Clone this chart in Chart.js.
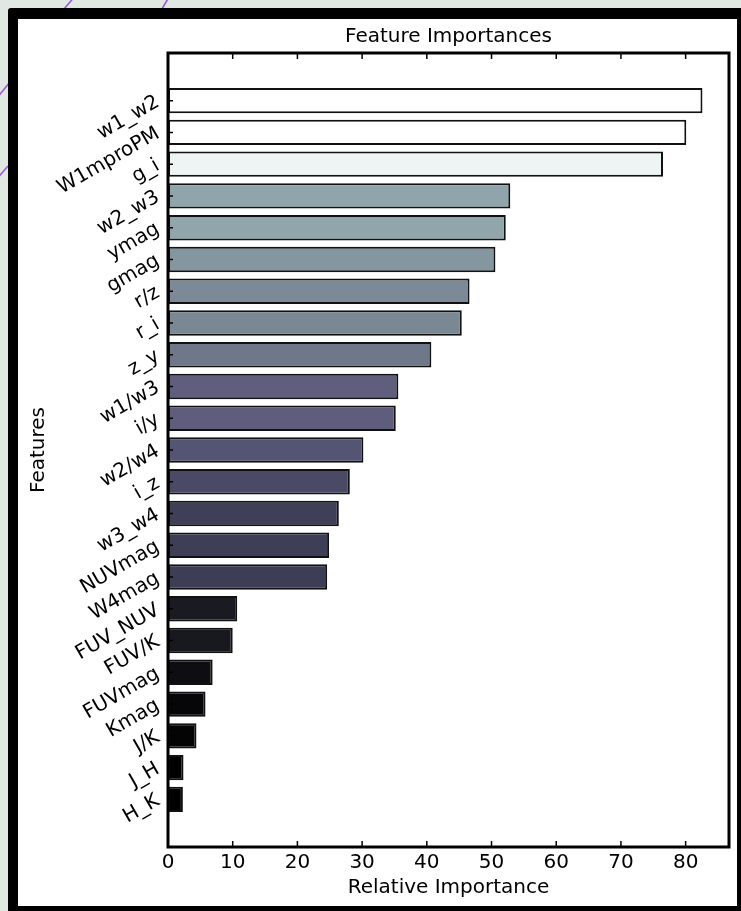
<!DOCTYPE html>
<html>
<head>
<meta charset="utf-8">
<script src="https://cdn.jsdelivr.net/npm/chart.js@4"></script>
<style>
  html, body { margin: 0; padding: 0; }
  body { width: 741px; height: 911px; overflow: hidden; background: #e1e7e2; position: relative; }
  #deco { position: absolute; left: 0; top: 0; }
  #frame { position: absolute; left: 8px; top: 8px; width: 719px; height: 887px;
           border: 10px solid #000; border-top-width: 11px; border-radius: 3px; background: #fff; }
  canvas { display: block; }
</style>
</head>
<body>
<svg id="deco" width="741" height="911">
  <g stroke="#9a5ad6" stroke-width="1.6" fill="none">
    <line x1="76" y1="-5" x2="58" y2="16"/>
    <line x1="169" y1="-3" x2="159" y2="14"/>
    <line x1="10" y1="82" x2="-4" y2="99"/>
    <line x1="8" y1="166" x2="-4" y2="180"/>
  </g>
</svg>
<div id="frame"><canvas id="c" width="719" height="887"></canvas></div>
<script>
// ---- data ----
const categories = ['w1_w2','W1mproPM','g_i','w2_w3','ymag','gmag','r/z','r_i','z_y','w1/w3','i/y','w2/w4','i_z','w3_w4','NUVmag','W4mag','FUV_NUV','FUV/K','FUVmag','Kmag','J/K','J_H','H_K'];
const importance = [82.6, 80.1, 76.5, 52.9, 52.2, 50.6, 46.6, 45.4, 40.7, 35.6, 35.2, 30.2, 28.1, 26.4, 24.9, 24.6, 10.7, 10.0, 6.9, 5.8, 4.4, 2.4, 2.3];
const xTicks = [0, 10, 20, 30, 40, 50, 60, 70, 80];
const xMax = 86.7;
const chartTitle = 'Feature Importances';
const xTitle = 'Relative Importance';
const yTitle = 'Features';

// ---- style ----
const palette = ['#ffffff','#ffffff','#eef3f3','#8fa5ab','#90a6ab','#8497a0','#7b8a96','#7a8894','#6e7889',
                 '#5f5f7d','#5e5e7c','#545572','#4a4a66','#3f3f58','#3e3e57','#3d3d56','#1a1a22','#18181f',
                 '#0e0e12','#060608','#040405','#000000','#000000'];
const FONT = 'DejaVu Sans';

// one empty slot above and below the bars (matplotlib-like margins)
const yLabels = [''].concat(categories, ['']);
const yData = [null].concat(importance, [null]);

const frameTicks = {
  id: 'frameTicks',
  afterDatasetsDraw(chart) {
    const {ctx, chartArea: a, scales: {x, y}} = chart;
    ctx.save();
    ctx.strokeStyle = '#000';
    ctx.lineWidth = 1.5;
    ctx.beginPath();
    x.ticks.forEach(t => {
      const px = x.getPixelForValue(t.value);
      ctx.moveTo(px, a.bottom); ctx.lineTo(px, a.bottom - 6);
      ctx.moveTo(px, a.top); ctx.lineTo(px, a.top + 6);
    });
    categories.forEach((c, i) => {
      const py = y.getPixelForValue(i + 1);
      ctx.moveTo(a.left, py); ctx.lineTo(a.left + 5, py);
    });
    ctx.stroke();
    ctx.lineWidth = 3;
    ctx.strokeRect(a.left, a.top, a.right - a.left, a.bottom - a.top);
    ctx.restore();
  }
};

new Chart(document.getElementById('c'), {
  type: 'bar',
  data: {
    labels: yLabels,
    datasets: [{
      data: yData,
      backgroundColor: ctx => palette[ctx.dataIndex - 1] || '#000',
      borderColor: '#111',
      borderWidth: 2,
      borderSkipped: false,
      barPercentage: 0.8,
      categoryPercentage: 1.0
    }]
  },
  options: {
    indexAxis: 'y',
    responsive: false,
    animation: false,
    devicePixelRatio: 1,
    layout: { padding: { left: 0, right: 8, top: 0, bottom: 0 } },
    plugins: {
      legend: { display: false },
      tooltip: { enabled: false },
      title: { display: false }
    },
    scales: {
      x: {
        type: 'linear',
        min: 0,
        max: xMax,
        grid: { display: false, drawTicks: false },
        border: { display: false },
        afterBuildTicks: s => { s.ticks = xTicks.map(v => ({ value: v })); },
        afterFit: s => { s.height = 59; },
        ticks: {
          color: '#000',
          padding: 4,
          maxRotation: 0,
          autoSkip: false,
          font: { family: FONT, size: 20 }
        },
        title: {
          display: true,
          text: xTitle,
          color: '#000',
          font: { family: FONT, size: 20 },
          padding: { top: 0, bottom: 6 }
        }
      },
      xTop: {
        type: 'linear',
        position: 'top',
        axis: 'x',
        min: 0,
        max: xMax,
        grid: { display: false, drawTicks: false },
        border: { display: false },
        ticks: { display: false },
        afterFit: s => { s.height = 34; },
        title: {
          display: true,
          text: chartTitle,
          color: '#000',
          font: { family: FONT, size: 20 },
          padding: { top: 6, bottom: 0 }
        }
      },
      y: {
        type: 'category',
        grid: { display: false, drawTicks: false },
        border: { display: false },
        afterFit: s => { s.width = 150; },
        ticks: {
          color: '#000',
          padding: 10,
          autoSkip: false,
          minRotation: 30,
          maxRotation: 30,
          font: { family: FONT, size: 20 }
        },
        title: {
          display: true,
          text: yTitle,
          color: '#000',
          font: { family: FONT, size: 20 },
          padding: { top: 9, bottom: 0 }
        }
      }
    }
  },
  plugins: [frameTicks]
});
</script>
</body>
</html>
